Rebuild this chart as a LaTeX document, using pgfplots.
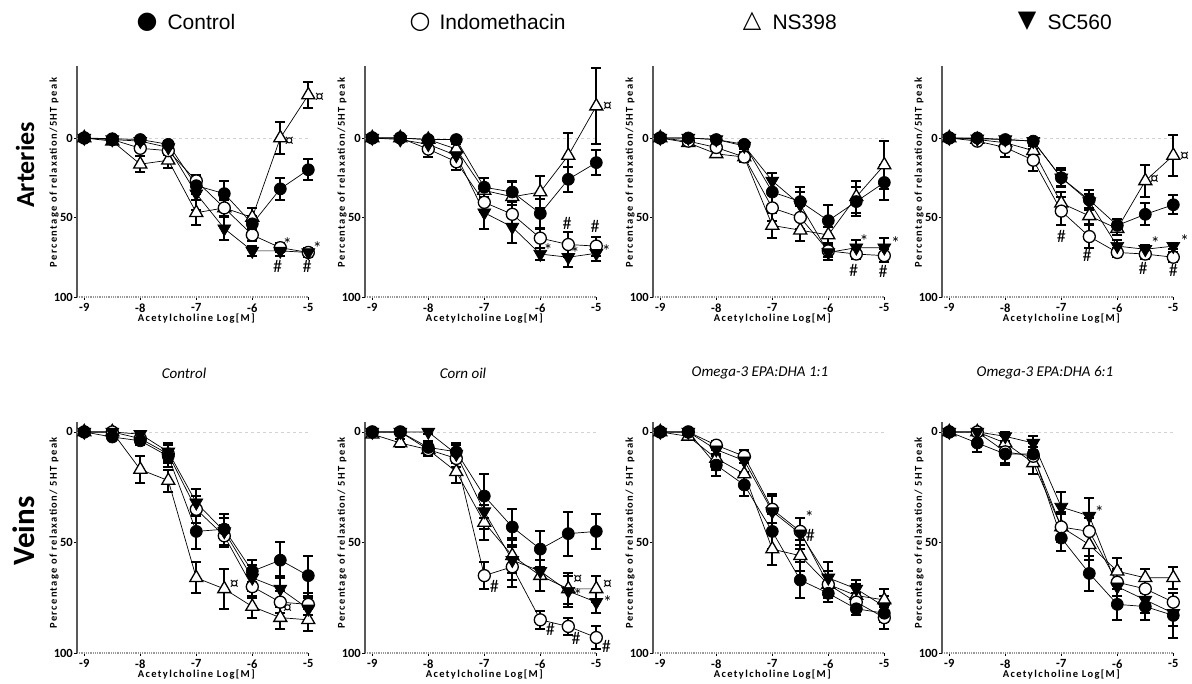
\documentclass[border=0pt]{standalone}
\usepackage{fontspec}
\usepackage{pgfplots}
\pgfplotsset{compat=1.18}
\setmainfont{Liberation Sans}
\newfontfamily\carl{Carlito}
\newfontfamily\lsp[LetterSpace=13]{Carlito}
\newfontfamily\dv{DejaVu Sans}

\pgfplotsset{
  panel/.style={
    scale only axis, width=231.3pt, clip=false, y dir=reverse,
    xmin=-9.13, xmax=-5,
    xtick={-9,-8,-7,-6,-5}, xticklabels={-9,-8,-7,-6,-5},
    ytick={0,50,100}, yticklabels={0,50,100},
    axis x line*=bottom, axis y line*=left,
    x axis line style={gray!80, line width=1.6pt, dash pattern=on 1pt off 0.8pt},
    y axis line style={gray!70!black, line width=1.6pt},
    major tick length=3pt, tick align=outside,
    tick style={black, line width=0.8pt},
    ticklabel style={font=\carl\bfseries\fontsize{12.5}{12.5}\selectfont},
    yticklabel style={inner xsep=1pt},
  },
  toprow/.style={height=230.6pt, ymin=-45, ymax=100},
  botrow/.style={height=231pt, ymin=-4.5, ymax=100},
  ctrl/.style={black, line width=0.7pt, mark=*, mark size=6pt, mark options={fill=black, draw=black, line width=0.7pt}},
  indo/.style={black, line width=0.7pt, mark=*, mark size=6pt, mark options={fill=white, draw=black, line width=1.3pt}},
  ns/.style={black, line width=0.7pt, mark=triangle*, mark size=7.5pt, mark options={fill=white, draw=black, line width=1.3pt}},
  sc/.style={black, line width=0.7pt, mark=triangle*, mark size=7.5pt, mark options={rotate=180, fill=black, draw=black}},
  eb/.style={error bars/.cd, y dir=both, y explicit,
    error bar style={line width=2pt, black},
    error mark options={rotate=90, mark size=5pt, line width=2pt, black}},
}
\newcommand{\ann}[3]{\node[font=\carl\fontsize{18}{18}\selectfont, inner sep=0pt] at (axis cs:#1,#2) {#3};}
\newcommand{\zeroline}{\draw[gray!35, dashed, line width=0.6pt] (axis cs:-9.13,0) -- (axis cs:-5,0);}
\newcommand{\ylab}[2]{\node[rotate=90, font=\lsp\bfseries\fontsize{10.5}{10.5}\selectfont] at ([xshift=-23pt]axis cs:-9.13,#1) {#2};}
\newcommand{\xlab}{\node[font=\lsp\bfseries\fontsize{10.5}{10.5}\selectfont] at ([yshift=-22pt]axis cs:-7,100) {Acetylcholine Log[M]};}

\begin{document}
\begin{tikzpicture}[x=1pt, y=1pt]
\path[use as bounding box] (0,0) rectangle (1192,684);

% legend
\node[font=\dv\fontsize{24}{24}\selectfont] at (147,662) {●};
\node[anchor=west, font=\fontsize{21}{21}\selectfont] at (164,662) {Control};
\node[font=\dv\fontsize{24}{24}\selectfont] at (420,662) {○};
\node[anchor=west, font=\fontsize{21}{21}\selectfont] at (436,662) {Indomethacin};
\node[font=\dv\fontsize{24}{24}\selectfont] at (752,663) {△};
\node[anchor=west, font=\fontsize{21}{21}\selectfont] at (769,662) {NS398};
\node[font=\dv\fontsize{24}{24}\selectfont] at (1027,663) {▼};
\node[anchor=west, font=\fontsize{21}{21}\selectfont] at (1044,662) {SC560};

% row labels
\node[rotate=90, font=\carl\bfseries\fontsize{26}{26}\selectfont] at (25,519) {Arteries};
\node[rotate=90, font=\carl\bfseries\fontsize{31}{31}\selectfont] at (24,153) {Veins};

% column titles
\node[font=\carl\itshape\fontsize{15}{15}\selectfont] at (184,311) {Control};
\node[font=\carl\itshape\fontsize{15}{15}\selectfont] at (463,311) {Corn oil};
\node[font=\carl\itshape\fontsize{15}{15}\selectfont] at (760,311) {Omega-3 EPA:DHA 1:1};
\node[font=\carl\itshape\fontsize{15}{15}\selectfont] at (1045,311) {Omega-3 EPA:DHA 6:1};

% ---------- Panel 1 ----------
\begin{axis}[panel, toprow, at={(77pt,387pt)}, anchor=south west]
\zeroline
\addplot[ns,eb] table[x=x,y=y,y error=e,row sep=\\]{x y e\\ -9 0 1\\ -8.5 2 1\\ -8 16.5 5\\ -7.5 14 5\\ -7 47 8\\ -6.5 44 6\\ -6 50 6\\ -5.5 0 10\\ -5 -27 8\\};
\addplot[indo,eb] table[x=x,y=y,y error=e,row sep=\\]{x y e\\ -9 0 1\\ -8.5 1 1\\ -8 6.5 2\\ -7.5 8 3\\ -7 27 4\\ -6.5 44 5\\ -6 61 4\\ -5.5 69 3\\ -5 72 3\\};
\addplot[sc,eb] table[x=x,y=y,y error=e,row sep=\\]{x y e\\ -9 0 1\\ -8.5 1 1\\ -8 2 1\\ -7.5 6 3\\ -7 35 10\\ -6.5 57 7\\ -6 71 3\\ -5.5 71 3\\ -5 72 3\\};
\addplot[ctrl,eb] table[x=x,y=y,y error=e,row sep=\\]{x y e\\ -9 0 1\\ -8.5 0.5 1\\ -8 1 1.5\\ -7.5 4 2\\ -7 30 5\\ -6.5 35 8\\ -6 54 5\\ -5.5 32 7\\ -5 20 6.5\\};
\ann{-5.34}{2.5}{¤}\ann{-5.375}{66.7}{*}\ann{-5.55}{81}{\#}
\ann{-4.8}{-25}{¤}\ann{-4.84}{69.5}{*}\ann{-5.02}{81}{\#}
\ylab{21.7}{Percentage of relaxation/5HT peak}
\xlab
\end{axis}

% ---------- Panel 2 ----------
\begin{axis}[panel, toprow, at={(365pt,387pt)}, anchor=south west]
\zeroline
\addplot[ns,eb] table[x=x,y=y,y error=e,row sep=\\]{x y e\\ -9 0 1\\ -8.5 0 1\\ -8 1 1\\ -7.5 7 3\\ -7 33 8\\ -6.5 37 10\\ -6 34 10\\ -5.5 11 14\\ -5 -20 24\\};
\addplot[indo,eb] table[x=x,y=y,y error=e,row sep=\\]{x y e\\ -9 0 1\\ -8.5 0 1\\ -8 7 5\\ -7.5 15 5\\ -7 40.5 6\\ -6.5 48 6\\ -6 63 6\\ -5.5 67 8\\ -5 68 6\\};
\addplot[sc,eb] table[x=x,y=y,y error=e,row sep=\\]{x y e\\ -9 0 1\\ -8.5 1 1\\ -8 4 2\\ -7.5 11 4\\ -7 47 10\\ -6.5 56 10\\ -6 73 4\\ -5.5 75 6\\ -5 72.5 5\\};
\addplot[ctrl,eb] table[x=x,y=y,y error=e,row sep=\\]{x y e\\ -9 0 1\\ -8.5 0 1\\ -8 1 1\\ -7.5 1 1\\ -7 31 6\\ -6.5 34 6\\ -6 47.5 9\\ -5.5 26 8\\ -5 15.5 8\\};
\ann{-5.86}{70.5}{*}\ann{-5.52}{54}{\#}\ann{-5.38}{72.6}{*}
\ann{-4.8}{-19.5}{¤}\ann{-5.02}{55.6}{\#}\ann{-4.82}{71}{*}
\ylab{21.7}{Percentage of relaxation/5HT peak}
\xlab
\end{axis}

% ---------- Panel 3 ----------
\begin{axis}[panel, toprow, at={(653pt,387pt)}, anchor=south west]
\zeroline
\addplot[ns,eb] table[x=x,y=y,y error=e,row sep=\\]{x y e\\ -9 0 1\\ -8.5 3 1\\ -8 10 2\\ -7.5 12 3\\ -7 55 8\\ -6.5 58 7\\ -6 61 5\\ -5.5 37 10\\ -5 17 15\\};
\addplot[indo,eb] table[x=x,y=y,y error=e,row sep=\\]{x y e\\ -9 0 1\\ -8.5 2 1\\ -8 6 2\\ -7.5 12 3\\ -7 44 8\\ -6.5 50 7\\ -6 71 4\\ -5.5 73 3\\ -5 74 4\\};
\addplot[sc,eb] table[x=x,y=y,y error=e,row sep=\\]{x y e\\ -9 0 1\\ -8.5 0 1\\ -8 1 2\\ -7.5 5 2\\ -7 27 5\\ -6.5 42 8\\ -6 72 5\\ -5.5 69 5\\ -5 69 6\\};
\addplot[ctrl,eb] table[x=x,y=y,y error=e,row sep=\\]{x y e\\ -9 0 1\\ -8.5 0 1\\ -8 1 1.5\\ -7.5 4 2\\ -7 34 8\\ -6.5 40 9\\ -6 52 10\\ -5.5 40 9\\ -5 28 11\\};
\ann{-5.36}{65}{*}\ann{-5.55}{83.5}{\#}\ann{-4.8}{66}{*}\ann{-5.02}{84}{\#}
\ylab{21.7}{Percentage of relaxation/5HT peak}
\xlab
\end{axis}

% ---------- Panel 4 ----------
\begin{axis}[panel, toprow, at={(942pt,387pt)}, anchor=south west]
\zeroline
\addplot[ns,eb] table[x=x,y=y,y error=e,row sep=\\]{x y e\\ -9 0 1\\ -8.5 1 1\\ -8 3 2\\ -7.5 8 3\\ -7 41 7\\ -6.5 49 5\\ -6 57 4\\ -5.5 27 10\\ -5 11 13\\};
\addplot[indo,eb] table[x=x,y=y,y error=e,row sep=\\]{x y e\\ -9 0 1\\ -8.5 2 1\\ -8 6 6\\ -7.5 14 7\\ -7 46 9\\ -6.5 62 7\\ -6 72 3\\ -5.5 73 3\\ -5 75 3\\};
\addplot[sc,eb] table[x=x,y=y,y error=e,row sep=\\]{x y e\\ -9 0 1\\ -8.5 0.5 0.5\\ -8 1 1\\ -7.5 2 1\\ -7 25 5\\ -6.5 40 5\\ -6 68 4\\ -5.5 70 3\\ -5 68 2\\};
\addplot[ctrl,eb] table[x=x,y=y,y error=e,row sep=\\]{x y e\\ -9 0 1\\ -8.5 0 0.5\\ -8 1 1\\ -7.5 2 1\\ -7 25 6\\ -6.5 39 6\\ -6 55 4\\ -5.5 48 7\\ -5 42 6\\};
\ann{-7}{62}{\#}\ann{-6.54}{73.6}{\#}\ann{-5.54}{82}{\#}\ann{-5}{83.5}{\#}
\ann{-5.34}{26.4}{¤}\ann{-4.8}{12}{¤}\ann{-5.32}{66.3}{*}\ann{-4.8}{64.6}{*}
\ylab{21.7}{Percentage of relaxation/5HT peak}
\xlab
\end{axis}

% ---------- Panel 5 ----------
\begin{axis}[panel, botrow, at={(77pt,31pt)}, anchor=south west]
\zeroline
\addplot[ns,eb] table[x=x,y=y,y error=e,row sep=\\]{x y e\\ -9 0 1\\ -8.5 0 1\\ -8 17 6\\ -7.5 22 5\\ -7 66 7\\ -6.5 71 9\\ -6 79 5\\ -5.5 84 5\\ -5 85 5\\};
\addplot[indo,eb] table[x=x,y=y,y error=e,row sep=\\]{x y e\\ -9 0 1\\ -8.5 0 1\\ -8 3 2\\ -7.5 10 4\\ -7 35 6\\ -6.5 47 5\\ -6 70 5\\ -5.5 77 5\\ -5 78 5\\};
\addplot[sc,eb] table[x=x,y=y,y error=e,row sep=\\]{x y e\\ -9 0 1\\ -8.5 0 1\\ -8 1 1\\ -7.5 9 4\\ -7 32 6\\ -6.5 45 6\\ -6 66 6\\ -5.5 71 6\\ -5 80 5\\};
\addplot[ctrl,eb] table[x=x,y=y,y error=e,row sep=\\]{x y e\\ -9 0 1\\ -8.5 2.3 1\\ -8 4 2\\ -7.5 11 5\\ -7 45 8\\ -6.5 44 7\\ -6 63 5\\ -5.5 58 8\\ -5 65 9\\};
\ann{-6.32}{69}{¤}\ann{-5.37}{80}{¤}
\ylab{45.7}{Percentage of relaxation/ 5HT peak}
\xlab
\end{axis}

% ---------- Panel 6 ----------
\begin{axis}[panel, botrow, at={(365pt,31pt)}, anchor=south west]
\zeroline
\addplot[ns,eb] table[x=x,y=y,y error=e,row sep=\\]{x y e\\ -9 1 1\\ -8.5 5 2\\ -8 8 3\\ -7.5 18 5\\ -7 41 8\\ -6.5 56 8\\ -6 65 7\\ -5.5 71 7\\ -5 71 6\\};
\addplot[indo,eb] table[x=x,y=y,y error=e,row sep=\\]{x y e\\ -9 0 1\\ -8.5 0 1\\ -8 8 3\\ -7.5 12 4\\ -7 65 6\\ -6.5 61 9\\ -6 85 4\\ -5.5 88 4\\ -5 93 5\\};
\addplot[sc,eb] table[x=x,y=y,y error=e,row sep=\\]{x y e\\ -9 0 1\\ -8.5 0 1\\ -8 0 1\\ -7.5 10 4\\ -7 36 8\\ -6.5 58 9\\ -6 63 9\\ -5.5 72 7\\ -5 77 5\\};
\addplot[ctrl,eb] table[x=x,y=y,y error=e,row sep=\\]{x y e\\ -9 0 1\\ -8.5 0 1\\ -8 7 3\\ -7.5 9 4\\ -7 29 10\\ -6.5 43 8\\ -6 53 8\\ -5.5 46 10\\ -5 45 8\\};
\ann{-6.82}{69.7}{\#}\ann{-5.82}{89.3}{\#}\ann{-5.36}{93.5}{\#}\ann{-5.33}{66.8}{¤}\ann{-5.33}{73.6}{*}
\ann{-4.8}{69.2}{¤}\ann{-4.8}{77.2}{*}\ann{-4.82}{96.8}{\#}
\ylab{45.7}{Percentage of relaxation/ 5HT peak}
\xlab
\end{axis}

% ---------- Panel 7 ----------
\begin{axis}[panel, botrow, at={(653pt,31pt)}, anchor=south west]
\zeroline
\addplot[ns,eb] table[x=x,y=y,y error=e,row sep=\\]{x y e\\ -9 0 1\\ -8.5 2 1\\ -8 12 5\\ -7.5 19 5\\ -7 53 7\\ -6.5 56 7\\ -6 69 6\\ -5.5 74 5\\ -5 76 5\\};
\addplot[indo,eb] table[x=x,y=y,y error=e,row sep=\\]{x y e\\ -9 0 1\\ -8.5 0 1\\ -8 6 2\\ -7.5 11 3\\ -7 35 6\\ -6.5 45 6\\ -6 69 6\\ -5.5 77 4\\ -5 84 5\\};
\addplot[sc,eb] table[x=x,y=y,y error=e,row sep=\\]{x y e\\ -9 0 1\\ -8.5 0 1\\ -8 8 3\\ -7.5 13 5\\ -7 36 8\\ -6.5 46 7\\ -6 66 7\\ -5.5 71 4\\ -5 79 5\\};
\addplot[ctrl,eb] table[x=x,y=y,y error=e,row sep=\\]{x y e\\ -9 0 1\\ -8.5 0 1\\ -8 15 5\\ -7.5 24 5\\ -7 45 8\\ -6.5 67 8\\ -6 73 4\\ -5.5 80 3\\ -5 82 4\\};
\ann{-6.34}{38.6}{*}\ann{-6.32}{47}{\#}
\ylab{45.7}{Percentage of relaxation/ 5HT peak}
\xlab
\end{axis}

% ---------- Panel 8 ----------
\begin{axis}[panel, botrow, at={(942pt,31pt)}, anchor=south west]
\zeroline
\addplot[ns,eb] table[x=x,y=y,y error=e,row sep=\\]{x y e\\ -9 0 1\\ -8.5 0 1\\ -8 5 3\\ -7.5 14 5\\ -7 43 7\\ -6.5 51 7\\ -6 63 6\\ -5.5 66 4\\ -5 66 5\\};
\addplot[indo,eb] table[x=x,y=y,y error=e,row sep=\\]{x y e\\ -9 0 1\\ -8.5 0 1\\ -8 9 5\\ -7.5 11 4\\ -7 43 6\\ -6.5 45 6\\ -6 68 6\\ -5.5 71 4\\ -5 77 4\\};
\addplot[sc,eb] table[x=x,y=y,y error=e,row sep=\\]{x y e\\ -9 0 1\\ -8.5 0 1\\ -8 2 2\\ -7.5 5 3\\ -7 34 7\\ -6.5 38 8\\ -6 70 7\\ -5.5 76 6\\ -5 82 6\\};
\addplot[ctrl,eb] table[x=x,y=y,y error=e,row sep=\\]{x y e\\ -9 0 1\\ -8.5 5 4\\ -8 10 5\\ -7.5 10 5\\ -7 48 6\\ -6.5 64 8\\ -6 78 7\\ -5.5 79 6\\ -5 83 10\\};
\ann{-6.32}{36.3}{*}
\ylab{45.7}{Percentage of relaxation/ 5HT peak}
\xlab
\end{axis}

\end{tikzpicture}
\end{document}
